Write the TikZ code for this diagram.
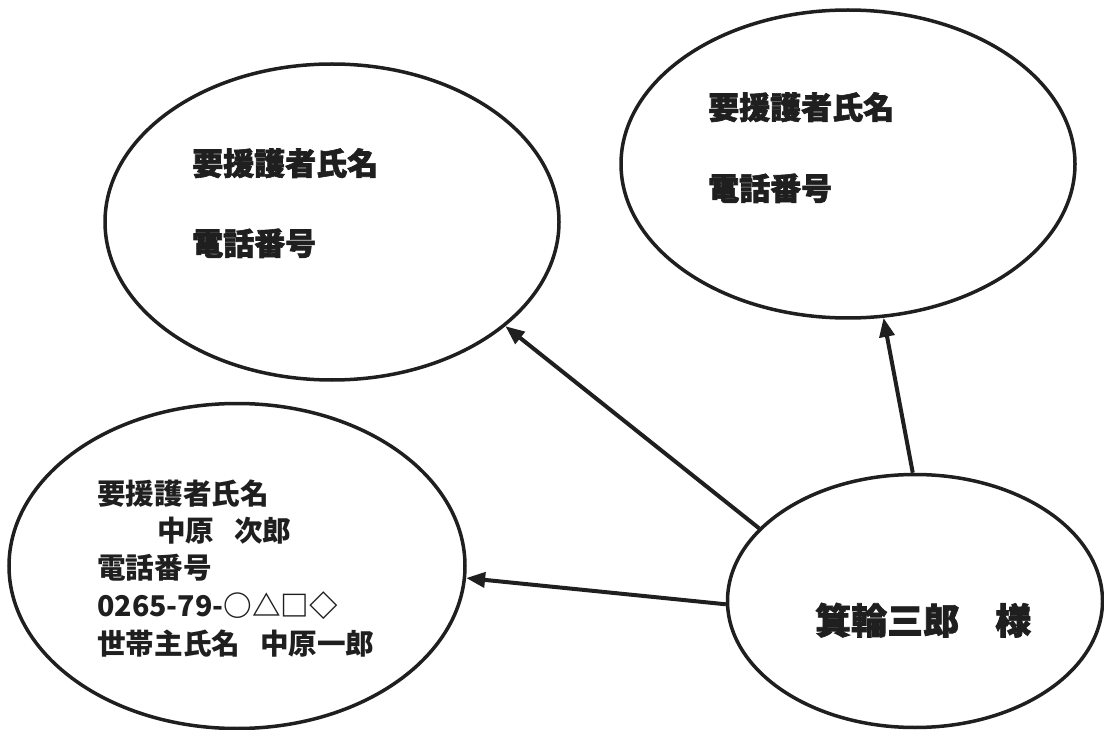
\documentclass[tikz,border=0pt]{standalone}
\usepackage{fontspec}
\newfontfamily\jp{Noto Sans CJK JP}
\newfontfamily\jph{Noto Sans CJK JP}[BoldFeatures={FakeBold=2}]
\usetikzlibrary{shapes.geometric,arrows.meta}
\tikzset{
  oval/.style={draw=black!88, ellipse, line width=3.5pt, inner sep=0pt},
  arr/.style={line width=4pt, draw=black!88, -{Triangle[length=19pt,width=15pt]}},
  bigtxt/.style={anchor=base west, inner sep=0pt, text=black!88, font=\jph\bfseries\fontsize{31pt}{31pt}\selectfont},
  midtxt/.style={anchor=base west, inner sep=0pt, text=black!88, font=\jp\bfseries\fontsize{28.6pt}{28.6pt}\selectfont},
  nametxt/.style={anchor=base west, inner sep=0pt, text=black!88, font=\jph\bfseries\fontsize{36pt}{36pt}\selectfont},
}
\begin{document}
\begin{tikzpicture}[x=1pt,y=-1pt]
\useasboundingbox (0,0) rectangle (1104,730);
% ellipses
\node[oval, minimum width=454pt, minimum height=316pt] (e1) at (332,222) {};
\node[oval, minimum width=454pt, minimum height=308pt] (e2) at (848,164) {};
\node[oval, minimum width=456pt, minimum height=325pt] (e3) at (237,566) {};
\node[oval, minimum width=375pt, minimum height=253pt] (e4) at (915,601) {};
% texts
\node[bigtxt] (t1a) at (192,175) {要援護者氏名};
\node[bigtxt] (t1b) at (192,255) {電話番号};
\node[bigtxt] (t2a) at (708,119) {要援護者氏名};
\node[bigtxt] (t2b) at (708,200) {電話番号};
\node[midtxt] (t3a) at (97,504) {要援護者氏名};
\node[midtxt] (t3b) at (157,541) {中原\hspace{20pt}次郎};
\node[midtxt] (t3c) at (97,578) {電話番号};
\node[midtxt] (t3d) at (97,616) {0265-79-○△□◇};
\node[midtxt] (t3e) at (97,654) {世帯主氏名\hspace{20pt}中原一郎};
\node[nametxt] (t4) at (815,634) {箕輪三郎　様};
% arrows
\draw[arr] (e4.91) -- (e2.-77);
\draw[arr] (e4.155) -- (e1.-31);
\draw[arr] (e4.181) -- (e3.-3);
\end{tikzpicture}
\end{document}
